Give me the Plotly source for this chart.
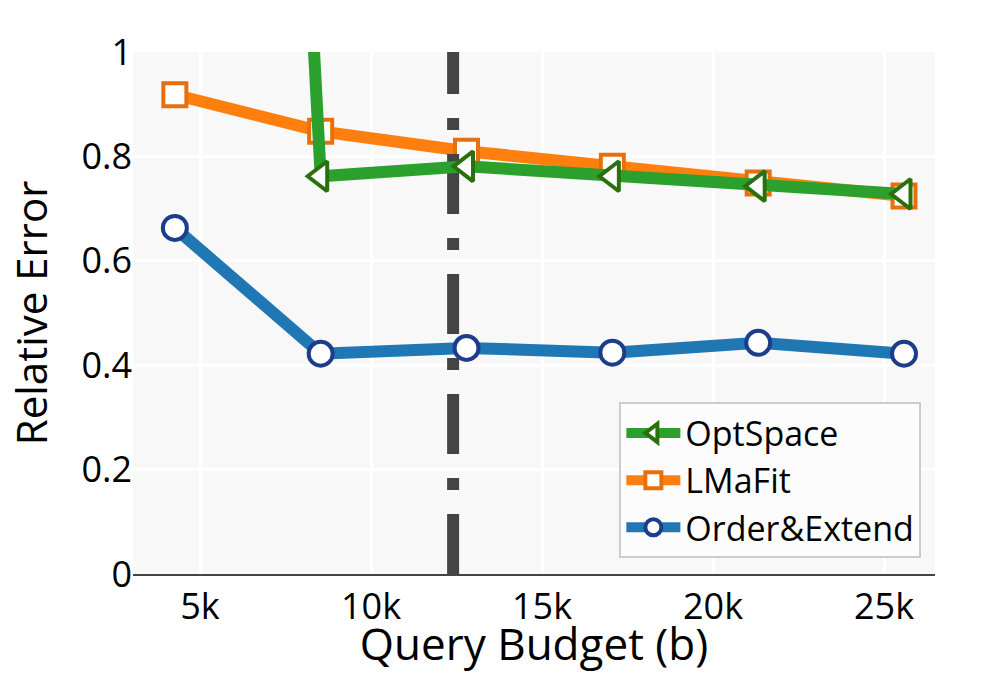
import plotly.graph_objects as go

budget = [4264, 8528, 12792, 17056, 21320, 25584]
order_extend = [0.663, 0.422, 0.433, 0.424, 0.443, 0.422]
lmafit = [0.918, 0.848, 0.810, 0.781, 0.749, 0.724]
optspace = [6.0, 0.762, 0.781, 0.762, 0.743, 0.728]
vline_x = 12400

FONT = "Open Sans"

fig = go.Figure()
fig.add_trace(go.Scatter(
    x=budget, y=order_extend, name="Order&Extend", mode="lines+markers",
    line=dict(color="#1f77b4", width=12),
    marker=dict(symbol="circle", size=24, color="white",
                line=dict(color="#1c3d8c", width=4)),
))
fig.add_trace(go.Scatter(
    x=budget, y=lmafit, name="LMaFit", mode="lines+markers",
    line=dict(color="#ff7f0e", width=12),
    marker=dict(symbol="square", size=23, color="white",
                line=dict(color="#e8700c", width=4)),
))
fig.add_trace(go.Scatter(
    x=[vline_x, vline_x], y=[0, 1], mode="lines", showlegend=False,
    line=dict(color="#444444", width=12, dash="longdashdot"),
    hoverinfo="skip",
))
fig.add_trace(go.Scatter(
    x=budget, y=optspace, name="OptSpace", mode="lines+markers",
    line=dict(color="#2ca02c", width=12),
    marker=dict(symbol="triangle-left", size=26, color="white",
                line=dict(color="#2b700f", width=4)),
))

fig.update_layout(
    width=1000, height=673,
    margin=dict(l=133, r=65, t=52, b=95),
    paper_bgcolor="white",
    plot_bgcolor="#f8f8f8",
    font=dict(family=FONT, size=36, color="black"),
    showlegend=True,
    legend=dict(
        traceorder="reversed",
        x=0.983, xanchor="right", y=0.03, yanchor="bottom",
        bgcolor="#fcfcfc", bordercolor="#cccccc", borderwidth=2,
        itemwidth=54,
        font=dict(family=FONT, size=34, color="black"),
    ),
)
fig.update_xaxes(
    range=[3040, 26490], dtick=5000, tick0=0,
    showgrid=True, gridcolor="white", gridwidth=3,
    zeroline=False, showline=True, linecolor="#444444", linewidth=2,
    ticks="", tickfont=dict(size=36),
    title=dict(text="Query Budget (b)", font=dict(size=44), standoff=0),
)
fig.update_yaxes(
    range=[0, 1], dtick=0.2,
    showgrid=True, gridcolor="white", gridwidth=3,
    zeroline=False, showline=False,
    ticks="", tickfont=dict(size=36),
    title=dict(text="Relative Error", font=dict(size=42), standoff=20),
)

fig.write_html("out.html")
